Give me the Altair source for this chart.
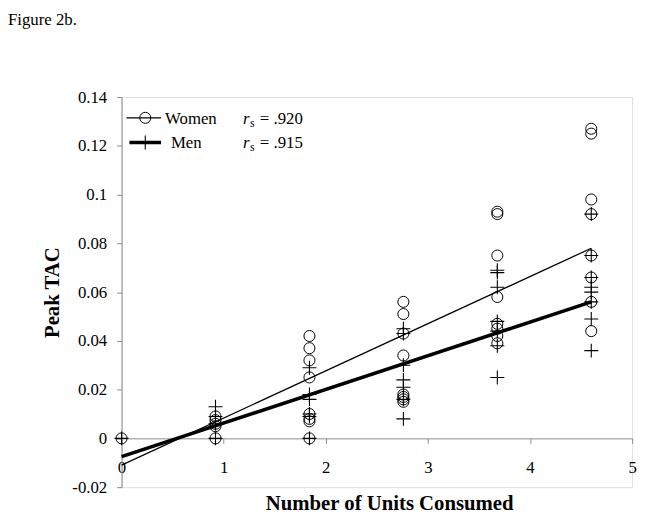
import altair as alt
import pandas as pd

# ---- data ----
women_units = [0,
               0.92, 0.92, 0.92, 0.92, 0.92,
               1.84, 1.84, 1.84, 1.84, 1.84, 1.84, 1.84, 1.84,
               2.76, 2.76, 2.76, 2.76, 2.76, 2.76, 2.76, 2.76,
               3.68, 3.68, 3.68, 3.68, 3.68, 3.68, 3.68, 3.68,
               4.6, 4.6, 4.6, 4.6, 4.6, 4.6, 4.6, 4.6]
women_tac = [0,
             0.009, 0.0075, 0.006, 0.005, 0,
             0.042, 0.037, 0.032, 0.025, 0.010, 0.008, 0.007, 0,
             0.056, 0.051, 0.043, 0.034, 0.018, 0.017, 0.016, 0.015,
             0.093, 0.092, 0.075, 0.058, 0.047, 0.045, 0.042, 0.039,
             0.127, 0.125, 0.098, 0.092, 0.075, 0.066, 0.056, 0.044]

men_units = [0,
             0.92, 0.92, 0.92, 0.92,
             1.84, 1.84, 1.84, 1.84, 1.84, 1.84,
             2.76, 2.76, 2.76, 2.76, 2.76, 2.76, 2.76,
             3.68, 3.68, 3.68, 3.68, 3.68, 3.68, 3.68,
             4.6, 4.6, 4.6, 4.6, 4.6, 4.6, 4.6, 4.6]
men_tac = [0,
           0.013, 0.009, 0.006, 0,
           0.029, 0.018, 0.016, 0.010, 0.009, 0,
           0.045, 0.043, 0.030, 0.024, 0.021, 0.016, 0.008,
           0.069, 0.068, 0.062, 0.048, 0.044, 0.038, 0.025,
           0.092, 0.075, 0.066, 0.062, 0.060, 0.056, 0.049, 0.036]

fit_units = [0, 4.6]
women_fit = [-0.011, 0.078]
men_fit = [-0.0075, 0.056]

y_ticks = [-0.02, 0, 0.02, 0.04, 0.06, 0.08, 0.1, 0.12, 0.14]
x_ticks = [0, 1, 2, 3, 4, 5]

FONT = "Liberation Serif"
AXIS_GRAY = "#8a8a8a"

women_df = pd.DataFrame({"units": women_units, "tac": women_tac})
men_df = pd.DataFrame({"units": men_units, "tac": men_tac})
wfit_df = pd.DataFrame({"units": fit_units, "tac": women_fit})
mfit_df = pd.DataFrame({"units": fit_units, "tac": men_fit})

x_scale = alt.Scale(domain=[0, 5], nice=False, zero=False)
y_scale = alt.Scale(domain=[-0.02, 0.14], nice=False, zero=False)

x_enc = alt.X("units:Q", scale=x_scale, axis=alt.Axis(
    values=x_ticks, format="d", grid=False, offset=-49.4,
    domainColor=AXIS_GRAY, tickColor=AXIS_GRAY, tickSize=5,
    labelFont=FONT, labelFontSize=17, labelColor="black", labelPadding=17,
    labelFlush=False,
    title="Number of Units Consumed", titleFont=FONT, titleFontSize=21,
    titleFontWeight="bold", titleColor="black", titlePadding=17, titleX=271))
y_enc = alt.Y("tac:Q", scale=y_scale, axis=alt.Axis(
    values=y_ticks, grid=False,
    labelExpr="datum.value < 0 ? '-' + format(-datum.value, '~g') : format(datum.value, '~g')",
    domainColor=AXIS_GRAY, tickColor=AXIS_GRAY, tickSize=5,
    labelFont=FONT, labelFontSize=17, labelColor="black", labelPadding=10,
    labelFlush=False,
    title="Peak TAC", titleFont=FONT, titleFontSize=21, titleFontWeight="bold",
    titleColor="black", titlePadding=9))

PLUS = "M-1,0L1,0M0,-1L0,1"

women_pts = alt.Chart(women_df).mark_point(
    shape="circle", filled=False, size=125, color="black", strokeWidth=1, opacity=1
).encode(x=x_enc, y=y_enc)
men_pts = alt.Chart(men_df).mark_point(
    shape=PLUS, filled=False, size=200, color="black", strokeWidth=1.1, opacity=1
).encode(x="units:Q", y="tac:Q")
women_line = alt.Chart(wfit_df).mark_line(color="black", strokeWidth=1.3).encode(
    x="units:Q", y="tac:Q")
men_line = alt.Chart(mfit_df).mark_line(color="black", strokeWidth=3.6).encode(
    x="units:Q", y="tac:Q")

# ---- hand-drawn legend ----
leg_w_line = alt.Chart(pd.DataFrame({"a": [0]})).mark_rule(color="black", strokeWidth=1.3).encode(
    x=alt.value(5), x2=alt.value(40), y=alt.value(21))
leg_w_sym = alt.Chart(pd.DataFrame({"a": [0]})).mark_point(
    shape="circle", filled=False, size=125, color="black", strokeWidth=1, opacity=1
).encode(x=alt.value(24), y=alt.value(21))
leg_m_line = alt.Chart(pd.DataFrame({"a": [0]})).mark_rule(color="black", strokeWidth=3.6).encode(
    x=alt.value(8), x2=alt.value(40), y=alt.value(46))
leg_m_sym = alt.Chart(pd.DataFrame({"a": [0]})).mark_point(
    shape=PLUS, filled=False, size=200, color="black", strokeWidth=1.1, opacity=1
).encode(x=alt.value(24), y=alt.value(46))


def txt(s, x, y, size=17, style="normal", weight="normal"):
    return alt.Chart(pd.DataFrame({"a": [0]})).mark_text(
        text=s, font=FONT, fontSize=size, fontStyle=style, fontWeight=weight,
        align="left", baseline="alphabetic", color="black"
    ).encode(x=alt.value(x), y=alt.value(y))


legend = [
    txt("Women", 44, 27),
    txt("r", 123, 27, style="italic"),
    txt("s", 130, 30, size=12),
    txt("= .920", 140, 27),
    txt("Men", 50, 52),
    txt("r", 123, 52, style="italic"),
    txt("s", 130, 55, size=12),
    txt("= .915", 140, 52),
    txt("Figure 2b.", -115, -73, size=17),
]

chart = alt.layer(
    women_pts, men_pts, women_line, men_line,
    leg_w_line, leg_w_sym, leg_m_line, leg_m_sym, *legend
).properties(
    width=517, height=395,
    autosize=alt.AutoSizeParams(type="none"),
    padding={"left": 115, "top": 87, "right": 9, "bottom": 25},
).configure_view(stroke=None).configure(background="white")

chart.save("out.html", embed_options={"renderer": "svg", "actions": False})
